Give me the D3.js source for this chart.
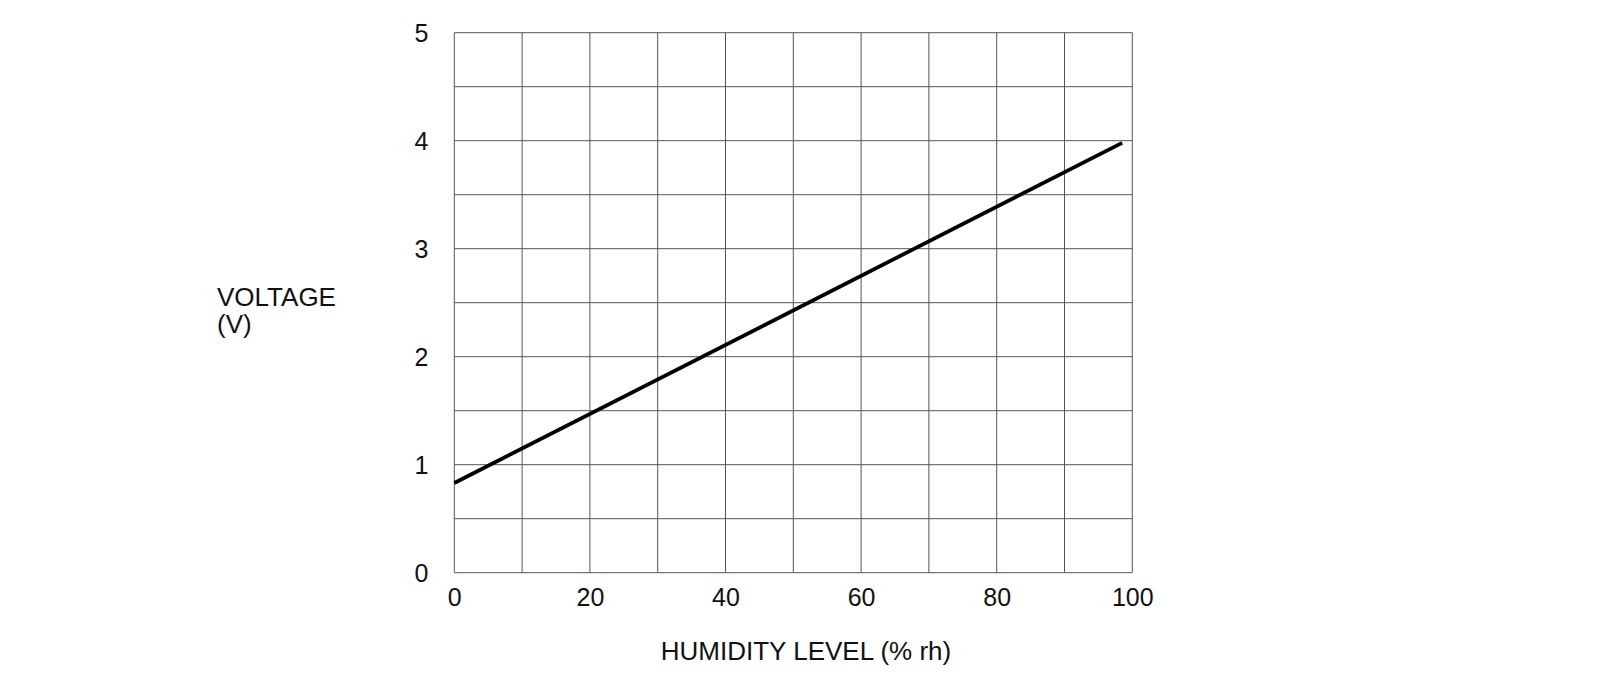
<!DOCTYPE html>
<html>
<head>
<meta charset="utf-8">
<script src="https://cdn.jsdelivr.net/npm/d3@7"></script>
<style>
html,body{margin:0;padding:0;background:#fff;}
svg text{font-family:"Liberation Sans",Arial,sans-serif;fill:#111;}
</style>
</head>
<body>
<svg id="chart" width="1600" height="700"></svg>
<script>
const humidity = [0, 98.5];
const voltage = [0.83, 3.98];
const xTicks = [0, 20, 40, 60, 80, 100];
const yTicks = [0, 1, 2, 3, 4, 5];
const xGrid = [0, 10, 20, 30, 40, 50, 60, 70, 80, 90, 100];
const yGrid = [0, 0.5, 1, 1.5, 2, 2.5, 3, 3.5, 4, 4.5, 5];
const xTitle = "HUMIDITY LEVEL (% rh)";
const yTitleLines = ["VOLTAGE", "(V)"];

const svg = d3.select("#chart");
const L = 454.3, R = 1132.3, T = 32.7, B = 572.7;
const x = d3.scaleLinear().domain([0, 100]).range([L, R]);
const y = d3.scaleLinear().domain([0, 5]).range([B, T]);

const grid = svg.append("g").attr("stroke", "#555").attr("stroke-width", 1);
grid.selectAll("line.v").data(xGrid).join("line").attr("class", "v")
  .attr("x1", d => x(d)).attr("x2", d => x(d)).attr("y1", T).attr("y2", B);
grid.selectAll("line.h").data(yGrid).join("line").attr("class", "h")
  .attr("x1", L).attr("x2", R).attr("y1", d => y(d)).attr("y2", d => y(d));

const xAxis = svg.append("g").attr("transform", `translate(0,${B})`)
  .call(d3.axisBottom(x).tickValues(xTicks).tickSize(0).tickPadding(25).tickFormat(d3.format("d")));
xAxis.select(".domain").remove();
xAxis.selectAll("text").attr("font-size", 25).attr("dy", "0.71em").attr("y", 16);

const yAxis = svg.append("g").attr("transform", `translate(${L},0)`)
  .call(d3.axisLeft(y).tickValues(yTicks).tickSize(0).tickPadding(26).tickFormat(d3.format("d")));
yAxis.select(".domain").remove();
yAxis.selectAll("text").attr("font-size", 25).attr("dy", "0.35em");

const pts = humidity.map((h, i) => [h, voltage[i]]);
svg.append("path").datum(pts)
  .attr("fill", "none").attr("stroke", "#000").attr("stroke-width", 3.8)
  .attr("d", d3.line().x(d => x(d[0])).y(d => y(d[1])));

svg.append("text").attr("x", 806).attr("y", 660).attr("text-anchor", "middle")
  .attr("font-size", 26).text(xTitle);

svg.selectAll("text.ytitle").data(yTitleLines).join("text").attr("class", "ytitle")
  .attr("x", 217).attr("y", (d, i) => 306 + i * 27).attr("font-size", 26).text(d => d);
</script>
</body>
</html>
